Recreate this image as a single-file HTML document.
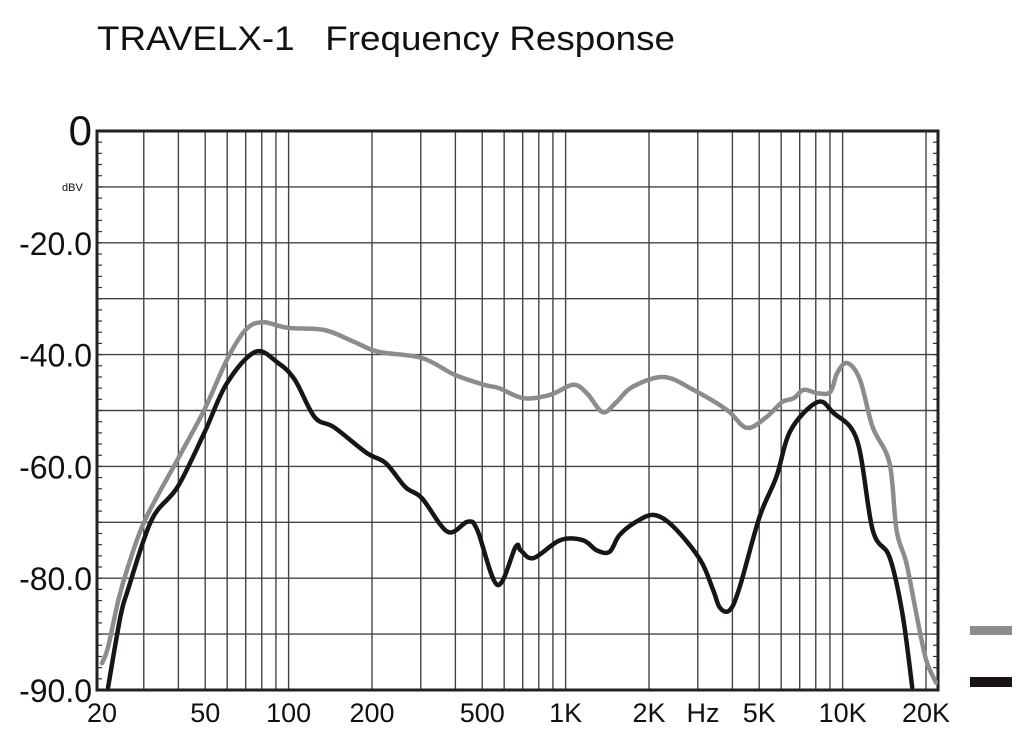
<!DOCTYPE html>
<html><head><meta charset="utf-8"><style>
body{margin:0;background:#fff;width:1024px;height:730px;overflow:hidden;font-family:"Liberation Sans",sans-serif}
svg{display:block}
</style></head><body>
<svg id="chart" width="1024" height="730" xmlns="http://www.w3.org/2000/svg">
<text x="97" y="50" font-size="34" fill="#111" font-family="Liberation Sans, sans-serif" xml:space="preserve" textLength="578" lengthAdjust="spacingAndGlyphs">TRAVELX-1   Frequency Response</text>
<g id="grid"></g>
<g id="series"></g>
<g id="labels"></g>
<rect x="970" y="626" width="42" height="9" fill="#8c8c8c"/>
<rect x="970" y="677" width="42" height="10" fill="#1b1414"/>
</svg>
<script>
const xTickFreqs=[20,50,100,200,500,1000,2000,5000,10000,20000];
const xTickLabels=["20","50","100","200","500","1K","2K","5K","10K","20K"];
const yTickValues=[0,-20,-40,-60,-80,-100];
const yTickLabels=["0","-20.0","-40.0","-60.0","-80.0","-90.0"];
const grayFreq=[21.2,22.3,24.3,26.3,30.3,39.7,49.6,59.9,69.9,80.3,99.4,134.6,171.8,211,303,397,508,575,705,880,1063,1193,1360,1526,1740,2257,2889,3822,4504,5303,6048,6658,7232,8114,9023,9559,10392,11552,12844,14772,15648,16994,18429,20017,21758];
const grayDb=[-95.2,-92.3,-83.9,-78.0,-69.6,-58.8,-49.9,-40.9,-35.6,-34.2,-35.2,-35.6,-37.7,-39.5,-40.6,-43.6,-45.4,-46.0,-47.8,-47.2,-45.4,-46.9,-50.3,-48.5,-45.8,-44.0,-46.3,-49.9,-53.1,-51.2,-48.5,-47.8,-46.3,-46.9,-46.7,-43.3,-41.5,-44.5,-53.0,-59.4,-71.4,-77.3,-86.2,-94.6,-98.7];
const blackFreq=[22.3,24.7,26.3,32.0,39.7,49.6,59.9,75.9,91.6,105.3,124.2,145.9,191.5,224,264,303,375,443,480,567,660,688,765,955,1154,1295,1440,1564,1799,2087,2452,3061,3407,3609,3915,4250,5007,5762,6499,8114,9253,11268,12844,14772,16425,17838];
const blackDb=[-99.5,-86.9,-82.1,-69.6,-63.7,-54.0,-45.1,-39.5,-41.5,-44.5,-51.2,-53.0,-57.6,-59.4,-63.7,-65.7,-71.7,-69.9,-71.4,-81.2,-74.4,-75.0,-76.4,-73.2,-73.2,-75.0,-75.3,-72.3,-69.9,-68.7,-70.8,-76.7,-82.1,-85.3,-85.7,-81.6,-69.1,-61.9,-53.5,-48.5,-50.4,-55.3,-71.4,-76.2,-86.2,-99.5];

const L=97,R=938,T=131,B=690;
const xs=f=>95+277*Math.log10(f/20);
const ys=d=>T+(B-T)*(-d)/100;
const NS="http://www.w3.org/2000/svg";
function mk(tag,attrs,parent){const e=document.createElementNS(NS,tag);for(const k in attrs)e.setAttribute(k,attrs[k]);parent.appendChild(e);return e;}
const grid=document.getElementById('grid');
for(let dec=10;dec<=10000;dec*=10){for(let m=1;m<10;m++){const f=dec*m;if(f<=20||f>20000)continue;
 const ln=mk('line',{x1:xs(f),x2:xs(f),y1:T,y2:B,stroke:'#444','stroke-width':1.4},grid);
 
 }}
for(let i=1;i<10;i++){const y=T+(B-T)*i/10;
 const ln=mk('line',{x1:L,x2:R,y1:y,y2:y,stroke:'#444','stroke-width':1.4},grid);
 
 }
for(let i=1;i<50;i++){const y=T+(B-T)*i/50;
 mk('line',{x1:L,x2:L+5,y1:y,y2:y,stroke:'#333','stroke-width':1.2},grid);
 mk('line',{x1:R-5,x2:R,y1:y,y2:y,stroke:'#333','stroke-width':1.2},grid);}
const frame=mk('rect',{x:L,y:T,width:R-L,height:B-T,fill:'none',stroke:'#222','stroke-width':3},grid);


const ser=document.getElementById('series');
function line(fr,db,color,name){
 const P=fr.map((f,i)=>[xs(f),ys(db[i])]);
 let d='M'+P[0][0].toFixed(1)+' '+P[0][1].toFixed(1);
 for(let i=0;i<P.length-1;i++){const p0=P[Math.max(0,i-1)],p1=P[i],p2=P[i+1],p3=P[Math.min(P.length-1,i+2)];
  const c1=[p1[0]+(p2[0]-p0[0])/6,p1[1]+(p2[1]-p0[1])/6],c2=[p2[0]-(p3[0]-p1[0])/6,p2[1]-(p3[1]-p1[1])/6];
  d+=' C'+c1[0].toFixed(1)+' '+c1[1].toFixed(1)+' '+c2[0].toFixed(1)+' '+c2[1].toFixed(1)+' '+p2[0].toFixed(1)+' '+p2[1].toFixed(1);}
 const p=mk('path',{d:d,fill:'none',stroke:color,'stroke-width':4.5,'stroke-linejoin':'round','stroke-linecap':'round'},ser);
 
 }
const clip=mk('clipPath',{id:'pc'},document.getElementById('chart'));
mk('rect',{x:L,y:T,width:R-L,height:B-T},clip);
ser.setAttribute('clip-path','url(#pc)');
line(grayFreq,grayDb,'#8c8c8c','gray-response-line');
line(blackFreq,blackDb,'#1b1414','black-response-line');
const lab=document.getElementById('labels');
xTickFreqs.forEach((f,i)=>{const t=mk('text',{x:Math.max(xs(f),102),y:722,'font-size':27,'text-anchor':'middle',fill:'#111'},lab);t.textContent=xTickLabels[i];
 
 });
const hz=mk('text',{x:703,y:722,'font-size':27,'text-anchor':'middle',fill:'#111'},lab);hz.textContent='Hz';


yTickValues.forEach((v,i)=>{const big=i===0;const t=mk('text',{x:92,y:ys(v)+(big?14:12),'font-size':big?42:32,'text-anchor':'end',fill:'#111'},lab);t.textContent=yTickLabels[i];
 
 });
const u=mk('text',{x:62,y:191,'font-size':11,fill:'#111'},lab);u.textContent='dBV';


</script>
</body></html>
